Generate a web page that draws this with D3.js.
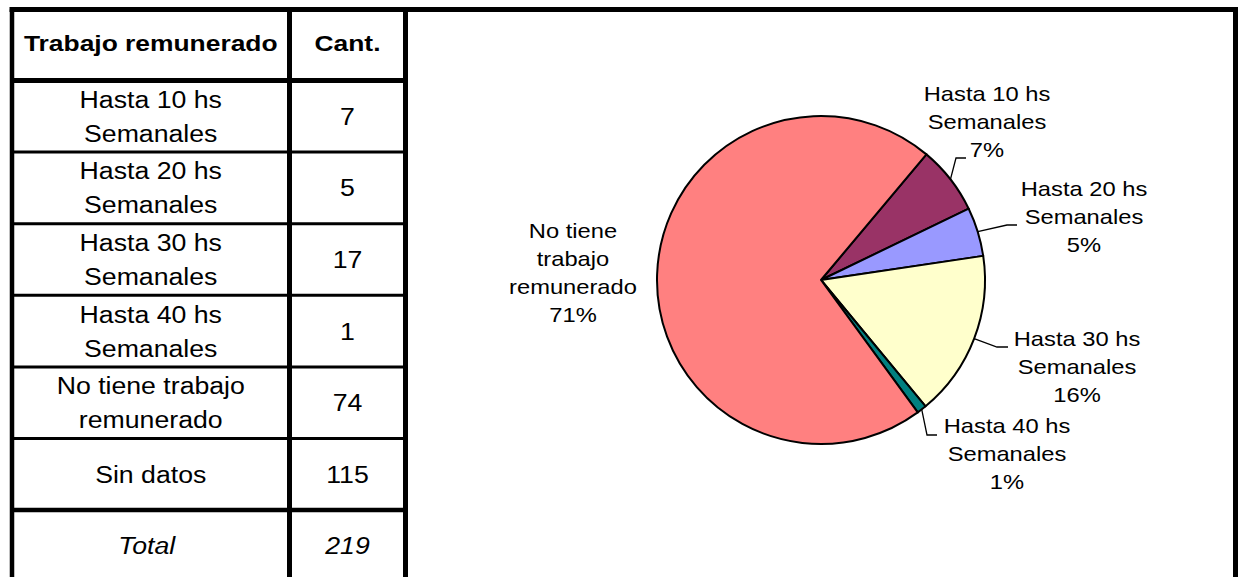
<!DOCTYPE html>
<html>
<head>
<meta charset="utf-8">
<script src="https://cdn.jsdelivr.net/npm/d3@7"></script>
<style>
  body { margin: 0; background: #fff; }
  text { font-family: Arial, "Liberation Sans", sans-serif; fill: #000; }
</style>
</head>
<body>
<div id="chart"></div>
<script>
// table data
const headers = ["Trabajo remunerado", "Cant."];
const rowLabels = [
  ["Hasta 10 hs", "Semanales"],
  ["Hasta 20 hs", "Semanales"],
  ["Hasta 30 hs", "Semanales"],
  ["Hasta 40 hs", "Semanales"],
  ["No tiene trabajo", "remunerado"],
  ["Sin datos"]
];
const counts = [7, 5, 17, 1, 74, 115];
const totalLabel = "Total";
const totalValue = 219;

// pie data (sin datos is left out)
const pieLabels = [
  ["Hasta 10 hs", "Semanales"],
  ["Hasta 20 hs", "Semanales"],
  ["Hasta 30 hs", "Semanales"],
  ["Hasta 40 hs", "Semanales"],
  ["No tiene", "trabajo", "remunerado"]
];
const pieValues = [7, 5, 17, 1, 74];
const pieColors = ["#993366", "#9999FF", "#FFFFCC", "#008080", "#FF8080"];

// label layout, relative to pie centre: elbow, end of leader, text x, first baseline
const labelLayout = [
  { elbow: [135, -122], end: [145, -122], tx: 166, ty: -179 },
  { elbow: [186, -55], end: [196, -55], tx: 263, ty: -84 },
  { elbow: [176, 67], end: [187, 67], tx: 256, ty: 66 },
  { elbow: [106, 155], end: [116, 155], tx: 186, ty: 153 },
  { elbow: null, end: null, tx: -248, ty: -42 }
];

const W = 1240, H = 577;
const svg = d3.select("#chart").append("svg")
  .attr("width", W).attr("height", H);

// ---- table ----
const xLeft = 12, xMid = 289.5, xDiv = 405.5, xRight = 1235.5, yTop = 9.5;
const headerBottom = 80.5;
const rowH = 71.6;
const y = d3.scaleLinear().domain([0, 7]).range([headerBottom, headerBottom + 7 * rowH]);
const col1 = (xLeft + xMid) / 2, col2 = (xMid + xDiv) / 2;

const lines = svg.append("g").attr("stroke", "#000");
// outer frame
lines.append("line").attr("x1", xLeft - 2.5).attr("x2", xRight + 2.5).attr("y1", yTop).attr("y2", yTop).attr("stroke-width", 5);
[xLeft, xMid, xDiv, xRight].forEach((x, i) => {
  lines.append("line").attr("x1", x).attr("x2", x).attr("y1", yTop).attr("y2", H)
    .attr("stroke-width", i === 0 ? 4.5 : 5);
});
// row lines
d3.range(0, 7).forEach(i => {
  lines.append("line").attr("x1", xLeft).attr("x2", xDiv)
    .attr("y1", y(i)).attr("y2", y(i))
    .attr("stroke-width", i === 0 ? 5 : i === 6 ? 4.5 : 3);
});

const cellText = (g, x, yb, lines, size, sx, weight, style, spacing) => {
  const t = g.append("text")
    .attr("transform", `translate(${x},${yb}) scale(${sx},1)`)
    .attr("text-anchor", "middle")
    .attr("font-size", size)
    .attr("font-weight", weight || "normal")
    .attr("font-style", style || "normal");
  lines.forEach((l, i) => {
    t.append("tspan").attr("x", 0).attr("dy", i === 0 ? 0 : spacing).text(l);
  });
  return t;
};

const tbl = svg.append("g");
cellText(tbl, col1, 51, [headers[0]], 22, 1.2, "bold");
cellText(tbl, col2, 51, [headers[1]], 22, 1.2, "bold");

rowLabels.forEach((lbl, i) => {
  const c = (y(i) + y(i + 1)) / 2;
  const first = lbl.length === 2 ? c - 8.5 : c + 8.5;
  cellText(tbl, col1, first, lbl, 23, 1.16, "normal", "normal", 34);
  cellText(tbl, col2, c + 8.5, [String(counts[i])], 23, 1.16);
});
cellText(tbl, col1 - 4, 554, [totalLabel], 23, 1.16, "normal", "italic");
cellText(tbl, col2, 554, [String(totalValue)], 23, 1.16, "normal", "italic");

// ---- pie ----
const cx = 821, cy = 280, R = 164;
const a0 = 40 * Math.PI / 180;
const pie = d3.pie().sort(null).startAngle(a0).endAngle(a0 + 2 * Math.PI);
const arcs = pie(pieValues);
const arc = d3.arc().innerRadius(0).outerRadius(R);
const edge = d3.arc().innerRadius(R).outerRadius(R);
const sum = d3.sum(pieValues);

const pg = svg.append("g").attr("transform", `translate(${cx},${cy})`);
pg.selectAll("path.slice")
  .data(arcs)
  .enter()
  .append("path")
  .attr("class", "slice")
  .attr("d", arc)
  .attr("fill", (d, i) => pieColors[i])
  .attr("stroke", "#000")
  .attr("stroke-width", 2)
  .attr("stroke-linejoin", "round");

arcs.forEach((d, i) => {
  const lay = labelLayout[i];
  if (lay.elbow) {
    const p = edge.centroid(d);
    pg.append("polyline")
      .attr("points", [p, lay.elbow, lay.end].map(q => q.join(",")).join(" "))
      .attr("fill", "none").attr("stroke", "#000").attr("stroke-width", 1.3);
  }
  const pct = Math.round(d.value / sum * 100) + "%";
  cellText(pg, lay.tx, lay.ty, pieLabels[i].concat([pct]), 21, 1.13, "normal", "normal", 28);
});
</script>
</body>
</html>
